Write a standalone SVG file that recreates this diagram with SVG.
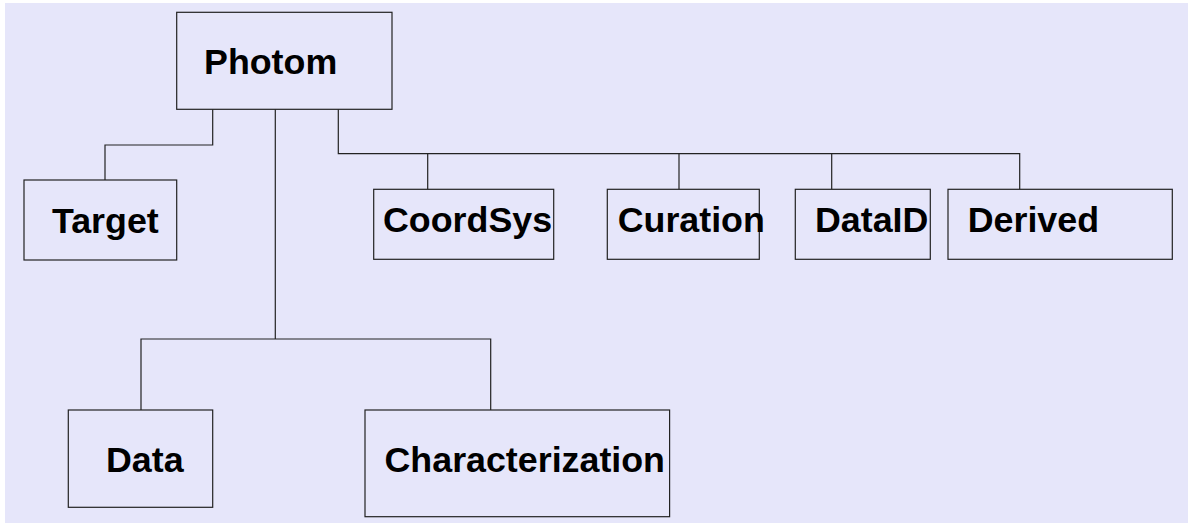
<svg xmlns="http://www.w3.org/2000/svg" width="1188" height="523" viewBox="0 0 1188 523">
<style>
.box{fill:#e6e6fa;stroke:#222;stroke-width:1.2}
.lbl{font-family:"Liberation Sans",Arial,sans-serif;font-weight:bold;font-size:35.8px;fill:#000}
.con{fill:none;stroke:#222;stroke-width:1.2}
</style>
<rect x="0" y="0" width="1188" height="523" fill="#ffffff"/>
<rect x="5" y="3" width="1183" height="520" fill="#e6e6fa"/>
<g id="connectors">
<polyline class="con" points="212.7,109.3 212.7,145 105,145 105,180"/>
<polyline class="con" points="275.3,109.3 275.3,339"/>
<polyline class="con" points="141,410 141,339 490.7,339 490.7,410"/>
<polyline class="con" points="338.3,109.3 338.3,153.7 1019.7,153.7 1019.7,189.3"/>
<line class="con" x1="427.7" y1="153.7" x2="427.7" y2="189.3"/>
<line class="con" x1="679" y1="153.7" x2="679" y2="189.3"/>
<line class="con" x1="831.7" y1="153.7" x2="831.7" y2="189.3"/>
</g>
<g id="photom"><rect class="box" x="176.7" y="12.3" width="215.3" height="97"/><text class="lbl" x="204" y="74">Photom</text></g>
<g id="target"><rect class="box" x="24" y="180" width="152.7" height="80"/><text class="lbl" x="52" y="233.3">Target</text></g>
<g id="coordsys"><rect class="box" x="373.7" y="189.3" width="180" height="70"/><text class="lbl" x="383" y="232.3">CoordSys</text></g>
<g id="curation"><rect class="box" x="607.3" y="189.3" width="152" height="70"/><text class="lbl" x="617.7" y="232.3">Curation</text></g>
<g id="dataid"><rect class="box" x="795.3" y="189.3" width="135" height="70"/><text class="lbl" x="815" y="232.3">DataID</text></g>
<g id="derived"><rect class="box" x="948" y="189.3" width="224.3" height="70"/><text class="lbl" x="967.7" y="232.3">Derived</text></g>
<g id="data"><rect class="box" x="68.3" y="410" width="144.4" height="97.3"/><text class="lbl" x="106" y="471.7">Data</text></g>
<g id="characterization"><rect class="box" x="365" y="410" width="304.6" height="106.7"/><text class="lbl" x="384.5" y="471.7">Characterization</text></g>
</svg>
